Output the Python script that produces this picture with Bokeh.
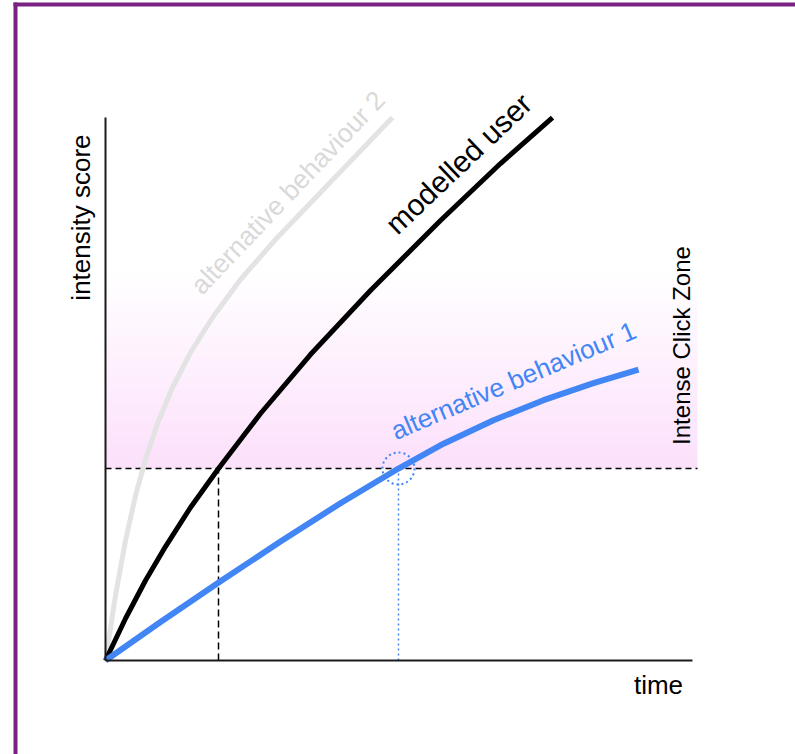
from bokeh.plotting import figure
from bokeh.models import Range1d, Label, BoxAnnotation
from bokeh.embed import file_html
from bokeh.resources import INLINE
import numpy as np

# ---------------- data (time units, intensity-score units) ----------------
time_modelled = [0.000, 0.341, 0.681, 1.022, 1.448, 1.925, 2.641, 3.492, 4.514, 5.707, 6.729, 7.615]
score_modelled = [0.000, 0.773, 1.473, 2.099, 2.818, 3.536, 4.549, 5.635, 6.814, 8.103, 9.153, 10.000]

time_alt1 = [0.000, 0.937, 1.959, 2.981, 4.003, 4.991, 5.758, 6.610, 7.462, 8.313, 9.080]
score_alt1 = [0.000, 0.709, 1.460, 2.190, 2.897, 3.536, 3.993, 4.425, 4.794, 5.107, 5.355]

time_alt2 = [0.000, 0.170, 0.341, 0.511, 0.681, 0.886, 1.141, 1.448, 1.823, 2.300, 2.896, 3.663, 4.889]
score_alt2 = [0.000, 1.197, 2.210, 3.039, 3.702, 4.365, 5.028, 5.672, 6.317, 7.017, 7.753, 8.619, 10.000]

threshold = 3.536          # intense click zone starts here
cross_modelled = 1.925     # time the modelled user reaches the zone
cross_alt1 = 4.991         # time alternative behaviour 1 reaches the zone
T_MAX = 10.0               # end of time axis
S_MAX = 10.0               # top of score axis
ZONE_T_END = 10.085
ZONE_TOP = 7.2

labels = {
    "y": "intensity score",
    "x": "time",
    "zone": "Intense Click Zone",
    "modelled": "modelled user",
    "alt1": "alternative behaviour 1",
    "alt2": "alternative behaviour 2",
}

BLUE = "#4285F4"
GRAY = "#E3E3E3"
GRAY_TXT = "#D9D9D9"
PURPLE = "#7B2183"
FONT = "Liberation Sans"

p = figure(width=795, height=754, x_range=Range1d(-1.789, 11.755), y_range=Range1d(-1.731, 12.155),
           x_axis_location=None, y_axis_location=None, toolbar_location=None,
           output_backend="svg", min_border=0, outline_line_color=None)
p.grid.visible = False
p.background_fill_color = "white"
p.border_fill_color = "white"

# gradient pink zone
n = 60
edges = np.linspace(threshold, ZONE_TOP, n + 1)
bottom_rgb = np.array([252, 224, 251])
cols = []
for i in range(n):
    f = i / (n - 1)
    c = bottom_rgb + (255 - bottom_rgb) * f
    cols.append("#%02x%02x%02x" % tuple(int(round(v)) for v in c))
p.quad(left=[0] * n, right=[ZONE_T_END] * n, bottom=list(edges[:-1]), top=list(edges[1:] + 0.01),
       fill_color=cols, line_color=None)

# threshold lines
p.line([0, ZONE_T_END], [threshold, threshold], line_color="black", line_width=1.5, line_dash="6 4")
p.line([cross_modelled, cross_modelled], [0, threshold], line_color="black", line_width=1.5, line_dash="7 4")
p.line([cross_alt1, cross_alt1], [0, threshold], line_color=BLUE, line_width=1.5, line_dash="2 3")
p.scatter([cross_alt1], [threshold], size=32, marker="circle", fill_color=None,
          line_color=BLUE, line_width=2, line_dash="2 3")

# curves
p.line(time_alt2, score_alt2, line_color=GRAY, line_width=5, line_join="round")
p.line(time_modelled, score_modelled, line_color="black", line_width=5, line_join="round")
p.line(time_alt1, score_alt1, line_color=BLUE, line_width=6, line_join="round")

# axes
p.line([0, T_MAX], [0, 0], line_color="#1a1a1a", line_width=2)
p.line([0, 0], [0, S_MAX], line_color="#1a1a1a", line_width=2)

def lab(text, x, y, size, color="black", angle=0, align="center", baseline="middle"):
    p.add_layout(Label(x=x, y=y, text=text, text_font=FONT, text_font_size=size, text_color=color,
                       angle=angle, angle_units="deg", text_align=align, text_baseline=baseline))

lab(labels["y"], -0.426, 8.158, "26px", angle=90)
lab(labels["x"], 9.421, -0.442, "26px", baseline="alphabetic")
lab(labels["zone"], 9.813, 5.801, "24px", angle=90)
lab(labels["modelled"], 6.014, 9.153, "30px", angle=43.5)
lab(labels["alt1"], 6.951, 5.157, "26px", color=BLUE, angle=23)
lab(labels["alt2"], 3.110, 8.620, "26.5px", color=GRAY_TXT, angle=46.5)

# frame border (purple)
p.add_layout(BoxAnnotation(left=13, right=17, bottom=0, top=752, left_units="screen", right_units="screen",
                           bottom_units="screen", top_units="screen", fill_color=PURPLE, fill_alpha=1,
                           line_color=None))
p.add_layout(BoxAnnotation(left=13, right=795, bottom=748, top=752, left_units="screen", right_units="screen",
                           bottom_units="screen", top_units="screen", fill_color=PURPLE, fill_alpha=1,
                           line_color=None))

open("out.html", "w").write(file_html(p, INLINE))
